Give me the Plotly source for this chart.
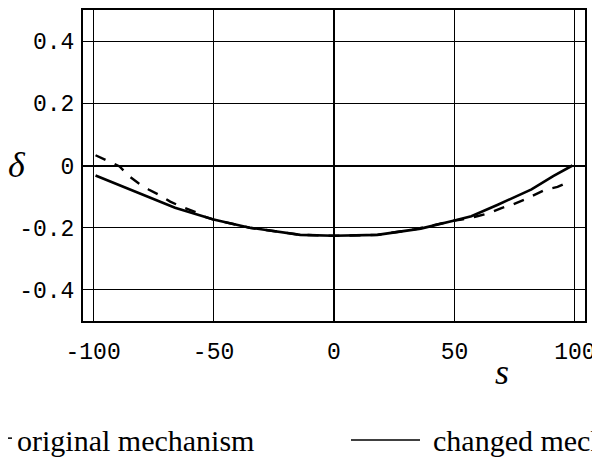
import plotly.graph_objects as go

# Data
s_changed = [-99, -86, -66, -50, -35, -14, 0, 18, 26, 33, 36, 50, 57, 68, 82, 91, 99]
d_changed = [-0.032, -0.072, -0.136, -0.174, -0.200, -0.223, -0.226, -0.223, -0.215,
             -0.206, -0.203, -0.177, -0.163, -0.126, -0.077, -0.034, 0.0]

s_original = [-99, -93, -89, -85, -81, -77, -72, -68, -63.5, -58, -54, -50, -35, -14, 0,
              18, 33, 50, 53, 59, 64.5, 69.5, 74, 79, 82.4, 88, 92.8, 98.6]
d_original = [0.033, 0.010, -0.003, -0.035, -0.058, -0.077, -0.097, -0.116, -0.132, -0.148,
              -0.164, -0.174, -0.200, -0.223, -0.226, -0.223, -0.206, -0.177, -0.174, -0.164,
              -0.153, -0.137, -0.126, -0.110, -0.097, -0.077, -0.069, -0.048]

x_ticks = [-100, -50, 0, 50, 100]
y_ticks = [-0.4, -0.2, 0, 0.2, 0.4]
y_tick_text = ["-0.4", "-0.2", "0", "0.2", "0.4"]

# page has an 8px body margin; figure is sized to fit the 600x460 window
OFF = 8
W, H = 600 - OFF, 460 - OFF
L, T, PW, PH = 75, 2, 502, 311
R, B = W - L - PW, H - T - PH


def px(x):
    return (x - OFF - L) / PW


def py(y):
    return 1 - (y - OFF - T) / PH


fig = go.Figure()
fig.add_trace(go.Scatter(x=s_original, y=d_original, mode="lines", name="original mechanism",
                         line=dict(color="black", width=2.4, dash="11px,10px")))
fig.add_trace(go.Scatter(x=s_changed, y=d_changed, mode="lines", name="changed mechanism",
                         line=dict(color="black", width=2.6)))

mono = dict(family="Liberation Mono, Courier New, monospace", size=23, color="black")

fig.update_xaxes(range=[-104.2, 104.2], tickvals=x_ticks, ticktext=[str(v) for v in x_ticks],
                 showgrid=True, gridcolor="black", gridwidth=1,
                 zeroline=True, zerolinecolor="black", zerolinewidth=2,
                 showline=True, linecolor="black", linewidth=2, mirror=True,
                 ticks="", ticklabelstandoff=8, tickfont=mono, automargin=False)
fig.update_yaxes(range=[-0.5, 0.5], tickvals=y_ticks, ticktext=y_tick_text,
                 showgrid=True, gridcolor="black", gridwidth=1,
                 zeroline=True, zerolinecolor="black", zerolinewidth=2,
                 showline=True, linecolor="black", linewidth=2, mirror=True,
                 ticks="", ticklabelstandoff=2, tickfont=mono, automargin=False)

serif = "Liberation Serif, Times New Roman, serif"
LEG_Y = py(440)
annotations = [
    dict(text="<i>δ</i>", xref="paper", yref="paper", x=px(17), y=py(165), showarrow=False,
         font=dict(family=serif, size=36, color="black"), xanchor="center", yanchor="middle"),
    dict(text="<i>s</i>", xref="paper", yref="paper", x=px(502), y=py(372), showarrow=False,
         font=dict(family=serif, size=36, color="black"), xanchor="center", yanchor="middle"),
    dict(text="original mechanism", xref="paper", yref="paper", x=px(15), y=LEG_Y,
         showarrow=False, font=dict(family=serif, size=30, color="black"),
         xanchor="left", yanchor="middle"),
    dict(text="changed mechanism", xref="paper", yref="paper", x=px(431), y=LEG_Y,
         showarrow=False, font=dict(family=serif, size=30, color="black"),
         xanchor="left", yanchor="middle"),
]
shapes = [
    dict(type="line", xref="paper", yref="paper", x0=px(8), x1=px(12), y0=LEG_Y + 0.006,
         y1=LEG_Y + 0.006, line=dict(color="black", width=1.5)),
    dict(type="line", xref="paper", yref="paper", x0=px(351), x1=px(420), y0=LEG_Y, y1=LEG_Y,
         line=dict(color="black", width=1.5)),
]

fig.update_layout(width=W, height=H, margin=dict(l=L, r=R, t=T, b=B, autoexpand=False),
                  paper_bgcolor="white", plot_bgcolor="white", showlegend=False,
                  annotations=annotations, shapes=shapes)

fig.write_html("out.html")
